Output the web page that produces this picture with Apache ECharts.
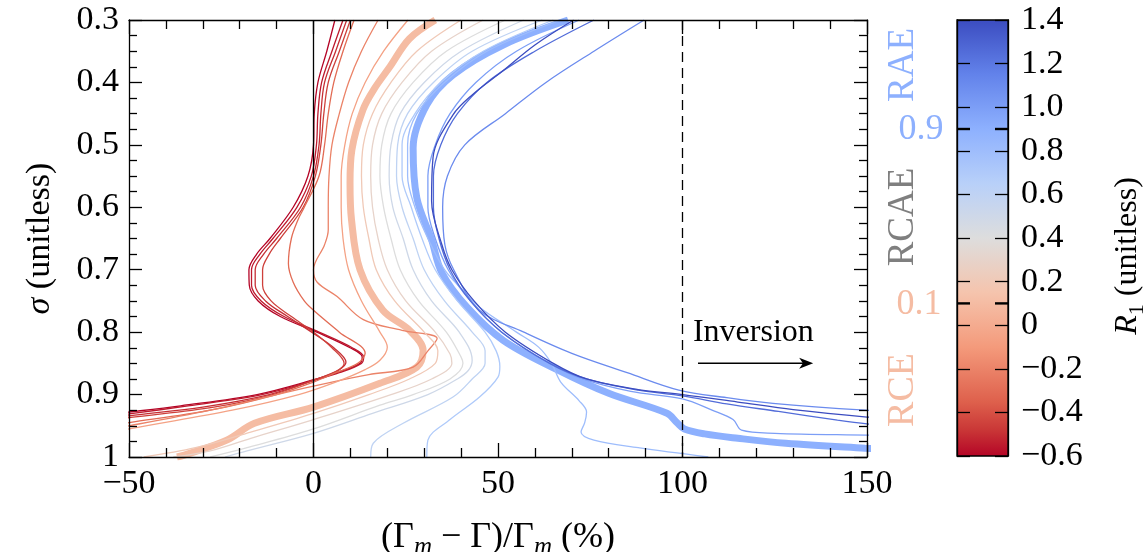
<!DOCTYPE html>
<html><head><meta charset="utf-8">
<script src="https://cdn.jsdelivr.net/npm/echarts/dist/echarts.min.js"></script>
<style>html,body{margin:0;padding:0;background:#fff}#c{width:1147px;height:552px}</style>
</head><body><div id="c"></div>
<script>
// ---------- axes / ticks ----------
const xMin = -50, xMax = 150, xStep = 50;
const sigmaMin = 0.3, sigmaMax = 1, sigmaStep = 0.1;
const r1Min = -0.6, r1Max = 1.4, r1Step = 0.2;
const r1Marks = [0.1, 0.9];
const refLinesX = [0, 100];
const arrowFrom = [104.2, 0.85], arrowTo = [134.6, 0.85];
const inversionAt = [119.2, 0.8];
const regimeNames = ['RAE', 'RCAE', 'RCE'];
const markNames = ['0.9', '0.1'];

// ---------- curves: [x (%), sigma] ----------
const cRm060 = [[5.8,0.3],[3.6,0.35],[1.2,0.4],[0.2,0.45],[0,0.5],[-1.5,0.55],[-5.5,0.6],[-11.8,0.65],[-15.4,0.675],[-17.5,0.7],[-17.4,0.725],[-15,0.75],[-9,0.775],[0.9,0.8],[9.9,0.825],[13.2,0.84],[12.6,0.85],[6.3,0.865],[0.9,0.875],[-15.3,0.9],[-36,0.918],[-50,0.928],[-68,0.94]];
const cRm055 = [[8,0.3],[5,0.35],[2.2,0.4],[1.2,0.45],[0.8,0.5],[-0.6,0.55],[-4.5,0.6],[-11,0.65],[-14.5,0.675],[-16.8,0.7],[-16.8,0.725],[-14.2,0.75],[-8,0.775],[1.5,0.8],[10.5,0.825],[13.6,0.84],[13,0.85],[7,0.865],[1.5,0.875],[-14,0.9],[-34,0.918],[-50,0.931],[-68,0.944]];
const cRm050 = [[9,0.3],[6,0.35],[3,0.4],[2,0.45],[1.5,0.5],[0,0.55],[-3.5,0.6],[-10,0.65],[-13.5,0.675],[-15.8,0.7],[-15.8,0.725],[-13,0.75],[-7,0.775],[-0.5,0.8],[5.5,0.825],[8.8,0.848],[7,0.86],[1,0.875],[-12,0.9],[-30,0.92],[-50,0.934],[-62,0.944]];
const cRm045 = [[10,0.3],[7,0.35],[4,0.4],[2.8,0.45],[2,0.5],[0.5,0.55],[-2.8,0.6],[-9,0.65],[-12,0.675],[-13.8,0.7],[-13.8,0.725],[-11.5,0.75],[-6,0.775],[0,0.8],[5,0.825],[8.3,0.85],[6.5,0.862],[1,0.875],[-11,0.9],[-27,0.92],[-50,0.937],[-62,0.947]];
const cRm030 = [[11,0.3],[8,0.35],[5.5,0.4],[4,0.45],[3,0.5],[1.5,0.55],[-2.5,0.6],[-4.2,0.62],[-6,0.65],[-6.8,0.69],[-5.5,0.72],[-2.5,0.75],[0,0.765],[7,0.8],[14,0.834],[12,0.85],[6,0.865],[0,0.88],[-10,0.9],[-28,0.925],[-50,0.945],[-65,0.958]];
const cRm020 = [[17.5,0.3],[13,0.35],[9.5,0.4],[7,0.45],[5,0.5],[4.2,0.55],[4,0.6],[4,0.636],[3,0.66],[0,0.7],[1,0.72],[6.4,0.743],[13.5,0.78],[24,0.797],[33.5,0.81],[31,0.83],[27,0.856],[15,0.868],[5,0.88],[-10,0.9],[-28,0.925],[-50,0.95],[-62,0.962]];
const cRm005 = [[25.6,0.3],[19,0.35],[14,0.4],[10.5,0.45],[8.5,0.5],[7.5,0.55],[7.5,0.6],[8,0.65],[9.5,0.7],[13,0.75],[18,0.8],[20,0.824],[18,0.845],[14,0.86],[6,0.88],[-4,0.9],[-22,0.925],[-50,0.955],[-62,0.97]];
const cR010 = [[33,0.3],[26,0.33],[20.7,0.375],[16.5,0.41],[13.4,0.444],[10.4,0.508],[9.9,0.561],[10.3,0.62],[12.6,0.7],[18.8,0.765],[26,0.797],[29.7,0.829],[28,0.856],[18,0.882],[0,0.92],[-16,0.946],[-23.5,0.973],[-35,0.997],[-37,1.0]];
const cR020 = [[40,0.3],[28,0.35],[21,0.4],[16,0.45],[13.5,0.5],[13,0.55],[13.5,0.6],[15,0.65],[17,0.7],[22,0.75],[30,0.8],[33.7,0.83],[33,0.85],[26,0.875],[15,0.9],[0,0.93],[-17,0.96],[-32,0.985],[-46,1.0]];
const cR030 = [[46,0.3],[32,0.35],[24,0.4],[18.5,0.45],[16,0.5],[15.5,0.55],[16,0.6],[17.5,0.65],[20,0.7],[25,0.75],[33,0.8],[37,0.835],[37.5,0.85],[32,0.875],[21,0.9],[0,0.94],[-17,0.97],[-28,0.99],[-38,1.0]];
const cR040 = [[52,0.3],[36,0.35],[27,0.4],[21,0.45],[18.5,0.5],[18,0.55],[19,0.6],[21,0.65],[23.5,0.7],[28.5,0.75],[36,0.8],[40,0.84],[40.5,0.85],[37,0.875],[27,0.9],[18,0.917],[0,0.955],[-18,0.985],[-28,1.0]];
const cR050 = [[57,0.3],[40,0.35],[30,0.4],[23.5,0.45],[21,0.5],[20.5,0.55],[21.5,0.6],[24.3,0.65],[27,0.7],[32,0.75],[39.5,0.8],[43,0.845],[42,0.861],[39,0.875],[31,0.9],[16,0.93],[0,0.962],[-18,0.99],[-24,1.0]];
const cR060 = [[62,0.3],[43,0.35],[32.5,0.4],[25.5,0.45],[22.8,0.5],[22.5,0.55],[24,0.6],[27,0.65],[30,0.7],[35.5,0.75],[43,0.8],[46.5,0.83],[46.5,0.85],[43,0.875],[37.8,0.904],[24.3,0.946],[16.2,0.978],[15.5,1.0]];
const cR070 = [[65,0.3],[46,0.35],[34.5,0.4],[27.5,0.45],[24,0.5],[24,0.55],[26.5,0.6],[29.4,0.65],[33,0.7],[39,0.75],[46.5,0.8],[49.5,0.83],[50.5,0.855],[50,0.872],[45,0.904],[37,0.94],[31,0.973],[30.7,1.0]];
const cR080 = [[67,0.3],[47,0.35],[35.5,0.4],[28,0.45],[25.5,0.5],[25.5,0.55],[27.5,0.6],[31,0.65],[35.5,0.7],[40,0.73],[45,0.76],[55,0.8],[61,0.824],[64.5,0.85],[67,0.88],[72,0.91],[74,0.928],[73.5,0.945],[72.5,0.96],[76,0.973],[88,0.985],[107,1.0]];
const cR090 = [[69,0.3],[51.4,0.34],[37.8,0.388],[30.7,0.436],[27,0.505],[28,0.585],[32,0.652],[34.8,0.705],[41.6,0.76],[51.4,0.813],[66,0.86],[80,0.898],[95.8,0.93],[98.5,0.945],[100.5,0.955],[106,0.963],[115,0.97],[128,0.978],[149.5,0.986],[162,0.99]];
const cR100 = [[72,0.3],[55,0.35],[44,0.4],[37,0.45],[33,0.5],[31,0.55],[31,0.6],[33,0.65],[36.5,0.7],[42.5,0.75],[51,0.8],[64,0.85],[73,0.875],[86,0.895],[100,0.907],[108,0.925],[113.7,0.94],[116,0.957],[125,0.962],[150,0.965],[160,0.966]];
const cR110 = [[89.6,0.3],[76,0.35],[63,0.4],[52,0.45],[41,0.5],[36.3,0.55],[35,0.6],[35.6,0.66],[38,0.7],[45,0.765],[57,0.8],[70,0.834],[85,0.865],[99,0.893],[112,0.905],[124.5,0.914],[149.5,0.925],[162,0.928]];
const cR125 = [[76,0.3],[60,0.35],[47,0.4],[39,0.45],[34.5,0.5],[32.5,0.55],[32.5,0.6],[34,0.65],[37,0.7],[42.5,0.75],[51,0.8],[64,0.85],[74,0.875],[88,0.893],[100,0.902],[112,0.915],[126,0.927],[142,0.941],[150,0.947],[160,0.952]];
const cR140 = [[70.5,0.3],[60,0.34],[51,0.383],[43,0.42],[37.8,0.452],[32.4,0.52],[32,0.59],[34.8,0.66],[37.5,0.7],[43.5,0.75],[52,0.8],[65,0.85],[74,0.875],[88,0.892],[100,0.9],[115,0.912],[130,0.924],[150,0.936],[160,0.94]];

const curveR1 = [0.1, 0.9, -0.6, -0.55, -0.5, -0.45, -0.3, -0.2, -0.05, 0.2, 0.3, 0.4, 0.5, 0.6, 0.7, 0.8, 1.0, 1.1, 1.25, 1.4];
const curveData = [cR010, cR090, cRm060, cRm055, cRm050, cRm045, cRm030, cRm020, cRm005, cR020, cR030, cR040, cR050, cR060, cR070, cR080, cR100, cR110, cR125, cR140];
const thickR1 = [0.1, 0.9];

// ---------- colour map (coolwarm, blue at R1 max) ----------
const cmStops = [[0,[59,76,192]],[0.125,[98,130,234]],[0.25,[141,176,254]],[0.375,[184,208,249]],[0.5,[221,221,221]],[0.625,[245,196,173]],[0.75,[244,154,123]],[0.875,[222,96,76]],[0.9375,[202,56,55]],[1,[180,4,38]]];
function coolwarm(t){
  t = Math.max(0, Math.min(1, t));
  for (let i = 1; i < cmStops.length; i++){
    const [t1,c1] = cmStops[i], [t0,c0] = cmStops[i-1];
    if (t <= t1){
      const f = (t - t0)/(t1 - t0);
      return 'rgb(' + c0.map((c,k)=>Math.round(c + (c1[k]-c)*f)).join(',') + ')';
    }
  }
  return 'rgb(180,4,38)';
}
const r1Color = v => coolwarm((r1Max - v)/(r1Max - r1Min));

const FONT = "'Liberation Serif','DejaVu Serif',serif";
const fmtX = v => v < 0 ? '\u2212' + Math.abs(v) : String(v);
const fmtY = v => Math.abs(v - 1) < 1e-9 ? '1' : v.toFixed(1);
const fmtC = v => Math.abs(v) < 1e-9 ? '0' : (v < 0 ? '\u2212' : '') + Math.abs(v).toFixed(1);

const black = {color:'#000', width:1.3};
const TICKFS = 34;

const series = curveData.map((pts, i) => {
  const r1 = curveR1[i];
  const thick = thickR1.includes(r1);
  return {
    type:'line', xAxisIndex:0, yAxisIndex:0, data:pts, showSymbol:false, symbol:'none',
    smooth:0.35, silent:true, z: thick ? 2 : 3,
    lineStyle:{color:r1Color(r1), width: thick ? 7 : 1.3}
  };
});
series[0].markLine = {
  silent:true, symbol:'none', label:{show:false},
  data: refLinesX.map((x,i)=>({xAxis:x, lineStyle:{color:'#000', width:1.3, type: i===0 ? 'solid' : [10,6]}}))
};
// inversion arrow
series.push({
  type:'line', xAxisIndex:0, yAxisIndex:0, silent:true, z:5, clip:false, showSymbol:true,
  lineStyle:{color:'#000', width:1.5},
  itemStyle:{color:'#000'},
  data:[
    {value:arrowFrom, symbol:'none'},
    {value:arrowTo, symbol:'path://M5,0 L10,13 L5,9.5 L0,13 Z', symbolSize:[11,14], symbolRotate:-90, symbolOffset:[-4,0]}
  ]
});

const gradStops = cmStops.map(([t,c]) => ({offset:t, color:'rgb(' + c.join(',') + ')'}));
series.push({
  type:'custom', xAxisIndex:2, yAxisIndex:2, data:[[0, r1Min]], silent:true, z:1,
  renderItem(params, api){
    const p0 = api.coord([0, r1Max]), p1 = api.coord([1, r1Min]);
    const children = [{type:'rect', shape:{x:p0[0], y:p0[1], width:p1[0]-p0[0], height:p1[1]-p0[1]},
      style:{fill:new echarts.graphic.LinearGradient(0,0,0,1,gradStops), stroke:'#000', lineWidth:1.3}}];
    r1Marks.forEach(v => {
      const a = api.coord([0, v]), b = api.coord([1, v]);
      children.push({type:'line', shape:{x1:a[0], y1:a[1], x2:a[0]+13, y2:a[1]}, style:{stroke:'#000', lineWidth:2.4}});
      children.push({type:'line', shape:{x1:b[0]-13, y1:b[1], x2:b[0], y2:b[1]}, style:{stroke:'#000', lineWidth:2.4}});
    });
    return {type:'group', children};
  }
});

const nameRich = {
  m:{fontFamily:FONT, fontSize:25, fontStyle:'italic', color:'#000', padding:[20,0,0,0]},
  i:{fontFamily:FONT, fontSize:34, fontStyle:'italic', color:'#000'},
  j:{fontFamily:FONT, fontSize:32, fontStyle:'italic', color:'#000'},
  s:{fontFamily:FONT, fontSize:22, color:'#000', padding:[18,0,0,0]}
};
const mainX = (pos, lab) => ({
  gridIndex:0, type:'value', min:xMin, max:xMax, interval:xStep, position:pos, z:10,
  axisLine:{onZero:false, lineStyle:black}, axisTick:{inside:true, length:14, lineStyle:black},
  minorTick:{show:true, splitNumber:5, length:9, lineStyle:black},
  splitLine:{show:false}, minorSplitLine:{show:false},
  axisLabel: lab ? {fontFamily:FONT, fontSize:TICKFS, color:'#000', margin:10, formatter:fmtX} : {show:false}
});
const mainY = (pos, lab) => ({
  gridIndex:0, type:'value', min:sigmaMin, max:sigmaMax, interval:sigmaStep, inverse:true, position:pos, z:10,
  axisLine:{onZero:false, lineStyle:black}, axisTick:{inside:true, length:13, lineStyle:black},
  minorTick:{show:true, splitNumber:4, length:8, lineStyle:black},
  splitLine:{show:false}, minorSplitLine:{show:false},
  axisLabel: lab ? {fontFamily:FONT, fontSize:TICKFS, color:'#000', margin:10, formatter:fmtY} : {show:false}
});
const xb = mainX('bottom', true);
Object.assign(xb, {name:'(\u0393{m|m} \u2212 \u0393)/\u0393{m|m} (%)', nameLocation:'middle', nameGap:58,
  nameTextStyle:{fontFamily:FONT, fontSize:36, color:'#000', rich:nameRich}});
const yl = mainY('left', true);
Object.assign(yl, {name:'{i|\u03c3} (unitless)', nameLocation:'middle', nameGap:72,
  nameTextStyle:{fontFamily:FONT, fontSize:34, color:'#000', rich:nameRich}});
const cbY = (pos, lab) => ({
  gridIndex:1, type:'value', min:r1Min, max:r1Max, interval:r1Step, position:pos, z:10,
  axisLine:{onZero:false, lineStyle:black}, axisTick:{inside:true, length:13, lineStyle:black},
  splitLine:{show:false},
  axisLabel: lab ? {fontFamily:FONT, fontSize:TICKFS, color:'#000', margin:13, formatter:fmtC} : {show:false}
});
const cbr = cbY('right', true);
Object.assign(cbr, {name:'{j|R}{s|1} (unitless)', nameLocation:'middle', nameGap:100,
  nameTextStyle:{fontFamily:FONT, fontSize:32, color:'#000', rich:nameRich, padding:[0,36,0,0]}});

const salmon = r1Color(0.1), lblue = r1Color(0.9);
const txt = (t, x, y, fill, rot, fs) => ({type:'text', x, y, rotation: rot ? Math.PI/2 : 0, silent:true,
  style:{text:t, font:fs + "px " + FONT, fill, textAlign:'center', textVerticalAlign:'middle'}});

const option = {
  animation:false, backgroundColor:'#fff',
  grid:[{left:129, top:20, width:738, height:437, outerBoundsMode:'none', containLabel:false},
        {left:957, top:20, width:51, height:436, outerBoundsMode:'none', containLabel:false}],
  xAxis:[xb, mainX('top', false), {gridIndex:1, type:'value', min:0, max:1, show:false}],
  yAxis:[yl, mainY('right', false), cbY('left', false), cbr],
  series
};
const chart = echarts.init(document.getElementById('c'), null, {renderer:'canvas'});
chart.setOption(option);
const invPx = chart.convertToPixel({xAxisIndex:0, yAxisIndex:0}, inversionAt);
chart.setOption({
  graphic:[
    txt('Inversion', invPx[0], invPx[1], '#000', false, 32),
    txt(regimeNames[0], 903, 65, lblue, true, 37),
    txt(markNames[0], 921, 130, lblue, false, 36),
    txt(regimeNames[1], 903, 217, '#7f7f7f', true, 37),
    txt(markNames[1], 919, 305, salmon, false, 36),
    txt(regimeNames[2], 903, 390, salmon, true, 38)
  ]
});
</script></body></html>
